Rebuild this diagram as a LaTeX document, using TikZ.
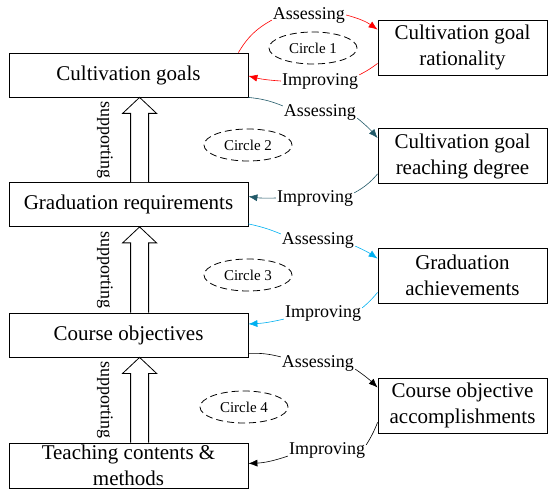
\documentclass[tikz,border=0pt]{standalone}
\usepackage{fontspec}
\setmainfont{Liberation Serif}
\usetikzlibrary{arrows.meta,shapes.geometric,calc}
\definecolor{loopteal}{RGB}{33,89,104}
\definecolor{loopblue}{RGB}{0,176,240}
\begin{document}
\begin{tikzpicture}[x=1pt,y=-1pt,
  lbox/.style={draw, line width=0.8pt, minimum width=239pt, minimum height=44pt, inner sep=0pt, align=center, font=\fontsize{21}{26}\selectfont},
  rbox/.style={lbox, minimum width=169pt, minimum height=55pt},
  loopring/.style={draw, ellipse, dash pattern=on 7pt off 4pt, line width=0.8pt, minimum width=88pt, minimum height=32pt, inner sep=0pt, font=\fontsize{15}{18}\selectfont},
  lab/.style={inner sep=1pt, font=\fontsize{18}{20}\selectfont},
  sup/.style={lab, rotate=-90},
  link/.style={line width=0.6pt},
  arr/.style={link, -{Latex[length=9pt,width=7pt]}},
  hollow/.style={draw, fill=white, line width=0.8pt}]
\useasboundingbox (0,0) rectangle (549,489);
% left column
\node[lbox] (cg) at (128.5,75) {Cultivation goals};
\node[lbox] (gr) at (128.5,204.5) {Graduation requirements};
\node[lbox] (co) at (128.5,335) {Course objectives};
\node[lbox, minimum height=45pt] (tcm) at (128.5,465.5) {Teaching contents \&\\methods};
% right column
\node[rbox] (cgr) at (462.5,47.5) {Cultivation goal\\rationality};
\node[rbox] (cgd) at (462.5,156) {Cultivation goal\\reaching degree};
\node[rbox] (ga) at (462.5,275.5) {Graduation\\achievements};
\node[rbox] (coa) at (462.5,405.5) {Course objective\\accomplishments};
% circles
\node[loopring] (c1) at (313,48) {Circle 1};
\node[loopring] (c2) at (248,145) {Circle 2};
\node[loopring] (c3) at (248,275) {Circle 3};
\node[loopring] (c4) at (244,407) {Circle 4};
% supporting arrows
\foreach \up/\dn/\ys [count=\i] in {cg/gr/140, gr/co/270, co/tcm/400}{
  \coordinate (tip\i) at ([xshift=131pt]\up.south west);
  \coordinate (base\i) at ([xshift=131pt]\dn.north west);
  \draw[hollow] let \p1=(tip\i), \p2=(base\i) in
    (\x2-9pt,\y2) -- (\x2-9pt,\y1-16pt) -- (\x2-17pt,\y1-16pt) -- (\x1,\y1)
    -- (\x2+17pt,\y1-16pt) -- (\x2+9pt,\y1-16pt) -- (\x2+9pt,\y2);
  \node[sup] (sp\i) at (105,\ys) {supporting};
}
% labels
\node[lab] (as1) at (309,15) {Assessing};
\node[lab] (im1) at (320,81) {Improving};
\node[lab] (as2) at (320,112) {Assessing};
\node[lab] (im2) at (315,198) {Improving};
\node[lab] (as3) at (318,240) {Assessing};
\node[lab] (im3) at (323,313) {Improving};
\node[lab] (as4) at (318,363) {Assessing};
\node[lab] (im4) at (327,450) {Improving};
% circle 1
\draw[link, red] ([xshift=-10pt]cg.north east) to[bend left=15] ([yshift=4pt]as1.south west);
\draw[arr, red] (as1.east) to[bend left=10] ([yshift=-10pt]cgr.north west);
\draw[link, red] ([yshift=12pt]cgr.south west) to[bend left=5] ([yshift=-3pt]im1.north east);
\draw[arr, red] (im1.west) to[bend left=5] ([yshift=-1pt]cg.east);
% circle 2
\draw[link, loopteal] (cg.south east) to[bend left=8] ([yshift=-3pt]as2.north west);
\draw[arr, loopteal] ([yshift=3pt]as2.south east) to[bend left=5] ([yshift=-10pt]cgd.north west);
\draw[link, loopteal] ([yshift=10pt]cgd.south west) to[bend left=10] ([yshift=-4pt]im2.north east);
\draw[arr, loopteal] (im2.west) to[bend left=5] ([yshift=8pt]gr.east);
% circle 3
\draw[link, loopblue] ([yshift=3pt]gr.south east) to[bend left=5] ([yshift=-3pt]as3.north west);
\draw[arr, loopblue] ([yshift=3pt]as3.south east) to[bend left=5] ([yshift=-11pt]ga.north west);
\draw[link, loopblue] ([yshift=11pt]ga.south west) to[bend left=5] ([yshift=-4pt]im3.north east);
\draw[arr, loopblue] ([yshift=3pt]im3.south west) to[bend left=5] ([yshift=11pt]co.east);
% circle 4
\draw[link] ([yshift=4pt]co.south east) to[bend left=8] ([yshift=-3pt]as4.north west);
\draw[arr] ([yshift=3pt]as4.south east) to[bend left=5] ([yshift=-10pt]coa.north west);
\draw[link] ([yshift=11pt]coa.south west) to[bend left=5] ([yshift=-4pt]im4.north east);
\draw[arr] ([yshift=3pt]im4.south west) to[bend left=8] ([yshift=2pt]tcm.east);
\end{tikzpicture}
\end{document}
